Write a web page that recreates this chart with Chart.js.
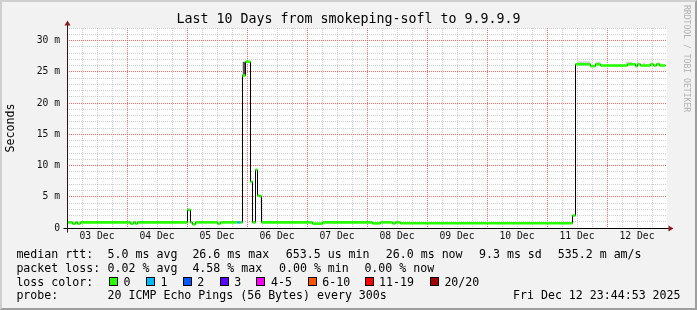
<!DOCTYPE html>
<html><head><meta charset="utf-8">
<script src="https://cdn.jsdelivr.net/npm/chart.js@4.4.1/dist/chart.umd.min.js"></script>
<style>
html,body{margin:0;padding:0;}
body{width:697px;height:310px;overflow:hidden;background:#f2f2f2;position:relative;font-family:"DejaVu Sans Mono",monospace;color:#000;}
#c{position:absolute;left:0;top:0;}
#frame{position:absolute;left:0;top:0;width:697px;height:310px;box-sizing:border-box;border-top:2px solid #cfcfcf;border-left:2px solid #cfcfcf;border-right:2px solid #9e9e9e;border-bottom:2px solid #9e9e9e;pointer-events:none;}
.t{position:absolute;white-space:pre;font-size:11.6px;line-height:14px;}
.box{position:absolute;top:277px;width:7px;height:7px;border:1px solid #000;}
#title{position:absolute;left:0;top:11px;width:697px;text-align:center;font-size:13.3px;line-height:16px;white-space:pre;}
#wm{position:absolute;left:682px;top:5px;writing-mode:vertical-rl;font-size:8.1px;line-height:10px;color:#b0b0b0;white-space:pre;}
</style></head>
<body>
<canvas id="c" width="697" height="310"></canvas>
<div id="title">Last 10 Days from smokeping-sofl to 9.9.9.9</div>
<div id="wm">RRDTOOL / TOBI OETIKER</div>

<div class="t" style="left:16.4px;top:247.3px">median rtt:</div>
<div class="t" style="left:107.6px;top:247.3px">5.0 ms avg</div>
<div class="t" style="left:192.4px;top:247.3px">26.6 ms max</div>
<div class="t" style="left:285.8px;top:247.3px">653.5 us min</div>
<div class="t" style="left:385.8px;top:247.3px">26.0 ms now</div>
<div class="t" style="left:479px;top:247.3px">9.3 ms sd</div>
<div class="t" style="left:557.8px;top:247.3px">535.2 m am/s</div>

<div class="t" style="left:16.4px;top:261px">packet loss:</div>
<div class="t" style="left:107.6px;top:261px">0.02 % avg</div>
<div class="t" style="left:192.4px;top:261px">4.58 % max</div>
<div class="t" style="left:279px;top:261px">0.00 % min</div>
<div class="t" style="left:364.4px;top:261px">0.00 % now</div>

<div class="t" style="left:16.4px;top:274.7px">loss color:</div>
<div id="losslegend"></div>

<div class="t" style="left:16.4px;top:288.3px">probe:</div>
<div class="t" style="left:107.6px;top:288.3px">20 ICMP Echo Pings (56 Bytes) every 300s</div>
<div class="t" style="left:513px;top:288.3px">Fri Dec 12 23:44:53 2025</div>
<div id="frame"></div>

<script>
// ---------- data (hours since 03 Dec 00:00, values in ms) ----------
const dayLabels = ['03 Dec','04 Dec','05 Dec','06 Dec','07 Dec','08 Dec','09 Dec','10 Dec','11 Dec','12 Dec'];
const yTickLabels = ['0','5 m','10 m','15 m','20 m','25 m','30 m'];

const stepStartHours = [0,2.2,3.4,4.2,5.4,25.4,26.6,27.4,28.2,48.2,49.4,50.2,51.4,60.2,61.4,68.2,69.4,70.2,71.4,73.4,74.2,75.4,76.2,77.0,77.8,98.2,102.2,122.2,125.4,130.2,131.4,133.4,202.2,203.4,209.4,211.4,213.4,224.2,227.4,228.2,229.4,233.4,234.6,235.8,237.0];
const stepMedianMs   = [0.9,0.7,0.9,0.7,0.9,0.7,0.9,0.7,0.9,2.9,0.9,0.6,0.9,0.7,0.9,0.9,0.9,24.4,26.6,7.4,0.9,9.3,5.2,5.1,0.9,0.7,0.9,0.75,0.9,0.75,0.9,0.75,2.0,26.2,25.9,26.2,26.0,26.2,25.9,26.2,26.0,26.2,26.0,26.2,26.0];
const stepLossClass  = [0,0,0,0,0,0,0,0,0,0,0,0,0,0,0,1,0,0,0,0,0,0,0,0,0,0,0,0,0,0,0,0,0,0,0,0,0,0,0,0,0,0,0,0,0];
const lastSampleHour = 239.4;

const smokeStartHours = [70.2,77.4,41.8,51.4,83.4,92.2,96.6,101.0,114.2,148.2,163.0,172.2,203.8,211.4,223.4,230.2,235.4];
const smokeEndHours   = [71.4,77.8,42.2,51.8,83.8,92.6,97.0,101.4,114.6,148.6,163.4,172.6,209.4,213.4,226.2,231.4,237.4];
const smokeLowMs      = [24.4,2.9,0.9,0.9,0.9,0.9,0.9,0.9,0.9,0.75,0.75,0.75,26.2,26.2,26.2,26.0,26.0];
const smokeHighMs     = [26.6,5.1,1.1,1.35,1.2,1.1,1.9,1.55,1.1,1.0,1.5,1.1,26.7,26.6,26.6,26.5,26.5];
const smokeShade      = ['#555555','#a8a8a8','#d0d0d0','#d0d0d0','#d0d0d0','#d0d0d0','#d0d0d0','#d0d0d0','#d0d0d0','#d0d0d0','#d0d0d0','#d0d0d0','#d6d6d6','#d6d6d6','#d6d6d6','#d6d6d6','#d6d6d6'];

const lossNames  = ['0','1','2','3','4-5','6-10','11-19','20/20'];
const lossColors = ['#26ff00','#00b8ff','#0059ff','#5e00ff','#ff00f0','#ff5500','#ff0000','#a00000'];
const lossBoxX   = [108.9,145.8,182.7,219.6,256.4,307.6,365.3,429.8];
const lossTextX  = [123.6,160.4,197.3,234.2,271.1,322.2,379.1,444.4];

// ---------- loss legend (text) ----------
const ll = document.getElementById('losslegend');
lossNames.forEach((n,i)=>{
  const b=document.createElement('div'); b.className='box'; b.style.left=lossBoxX[i]+'px'; b.style.background=lossColors[i]; ll.appendChild(b);
  const t=document.createElement('div'); t.className='t'; t.style.left=lossTextX[i]+'px'; t.style.top='274.7px'; t.textContent=n; ll.appendChild(t);
});

// ---------- datasets ----------
const blackStep = stepStartHours.map((t,i)=>({x:t,y:stepMedianMs[i]}));
blackStep.push({x:lastSampleHour,y:stepMedianMs[stepMedianMs.length-1]});

const pieces = [];
stepStartHours.forEach((t,i)=>{
  const end = i+1<stepStartHours.length ? stepStartHours[i+1] : lastSampleHour;
  pieces.push({x:t,y:stepMedianMs[i],loss:stepLossClass[i]});
  pieces.push({x:end,y:stepMedianMs[i],loss:stepLossClass[i]});
  pieces.push({x:end,y:null,loss:0});
});

const datasets = [
  {label:'median',data:pieces,borderWidth:2.6,pointRadius:0,spanGaps:false,order:0,borderColor:lossColors[0],
   segment:{borderColor:ctx=>lossColors[pieces[ctx.p0DataIndex].loss]}},
  {label:'medianStep',data:blackStep,stepped:true,borderColor:'#000',borderWidth:1,pointRadius:0,order:1}
];
const shades = [...new Set(smokeShade)];
shades.forEach((sh,k)=>{
  const top=[],bot=[];
  smokeStartHours.forEach((s,i)=>{
    if(smokeShade[i]!==sh) return;
    top.push({x:s,y:smokeHighMs[i]},{x:smokeEndHours[i],y:smokeHighMs[i]},{x:smokeEndHours[i],y:null});
    bot.push({x:s,y:smokeLowMs[i]},{x:smokeEndHours[i],y:smokeLowMs[i]},{x:smokeEndHours[i],y:null});
  });
  const idx = datasets.length;
  datasets.push({label:'smoke'+k,data:top,borderWidth:0,pointRadius:0,fill:{target:idx+1},backgroundColor:sh,order:2+2*k});
  datasets.push({label:'smokeLow'+k,data:bot,borderWidth:0,pointRadius:0,fill:false,order:3+2*k});
});

const RED='rgba(255,50,50,0.72)', GRAY='rgba(140,140,140,0.42)';
const tickFont={family:'DejaVu Sans Mono',size:9.7};

const rrdFrame={
  id:'rrdFrame',
  beforeDraw(chart){
    const {ctx,chartArea:a}=chart;
    ctx.save();ctx.fillStyle='#ffffff';ctx.fillRect(a.left,a.top,a.right-a.left,a.bottom-a.top);ctx.restore();
  },
  afterDraw(chart){
    const {ctx,chartArea:a,scales:{y}}=chart;
    const y0=Math.round(y.getPixelForValue(0))+0.5;
    const x0=Math.round(a.left)+0.5;
    const xr=Math.round(a.right);
    ctx.save();
    ctx.strokeStyle='#000';ctx.lineWidth=1;
    ctx.beginPath();ctx.moveTo(x0-4,y0);ctx.lineTo(xr+2,y0);ctx.stroke();
    ctx.strokeStyle='#2a1515';
    ctx.beginPath();ctx.moveTo(x0,y0+4);ctx.lineTo(x0,a.top-3);ctx.stroke();
    ctx.fillStyle='#8b1c1c';
    ctx.beginPath();ctx.moveTo(x0-3,a.top-2.5);ctx.lineTo(x0+3,a.top-2.5);ctx.lineTo(x0,a.top-7.5);ctx.closePath();ctx.fill();
    ctx.beginPath();ctx.moveTo(xr+1.5,y0-3);ctx.lineTo(xr+1.5,y0+3);ctx.lineTo(xr+6.5,y0);ctx.closePath();ctx.fill();
    ctx.restore();
  }
};

new Chart(document.getElementById('c'),{
  type:'line',
  data:{datasets},
  plugins:[rrdFrame],
  options:{
    responsive:false,devicePixelRatio:1,animation:false,
    layout:{padding:{left:0,right:30,top:28,bottom:62}},
    plugins:{legend:{display:false},tooltip:{enabled:false},title:{display:false}},
    scales:{
      x:{type:'linear',min:0,max:240,
        afterFit:s=>{s.height=20;},
        ticks:{stepSize:6,maxTicksLimit:100,autoSkip:false,maxRotation:0,minRotation:0,padding:3,color:'#111',font:tickFont,
          callback:v=>(v%24===12)?dayLabels[(v-12)/24]:''},
        grid:{drawTicks:false,lineWidth:1,color:c=>{const v=c.tick.value; if(v<=0||v>=240) return 'rgba(0,0,0,0)'; return v%24===0?RED:GRAY;}},
        border:{display:false,dash:[1,1]}
      },
      y:{type:'linear',min:0,max:32,
        afterFit:s=>{s.width=67;},
        ticks:{stepSize:1,maxTicksLimit:100,autoSkip:false,padding:7,color:'#111',font:tickFont,
          callback:v=>(v%5===0)?yTickLabels[v/5]:''},
        grid:{drawTicks:false,lineWidth:1,color:c=>{const v=c.tick.value; if(v<=0) return 'rgba(0,0,0,0)'; return v%5===0?RED:GRAY;}},
        border:{display:false,dash:[1,1]},
        title:{display:true,text:'Seconds',color:'#000',font:{family:'DejaVu Sans Mono',size:11.6},padding:{top:4,bottom:0}}
      }
    }
  }
});
</script>
</body></html>
